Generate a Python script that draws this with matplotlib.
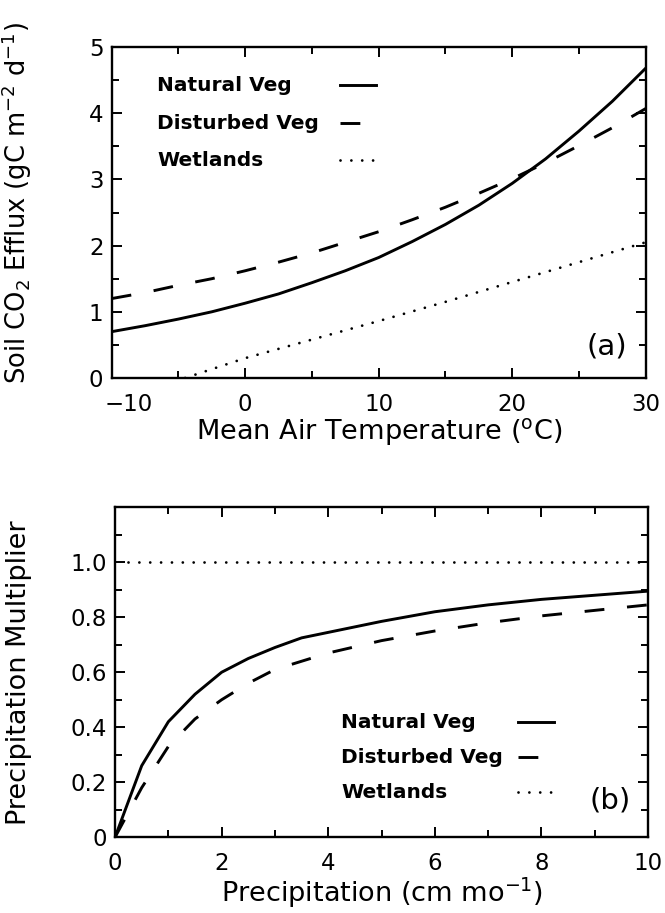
import numpy as np
import matplotlib
matplotlib.use("Agg")
import matplotlib.pyplot as plt
from matplotlib.ticker import MultipleLocator, FixedLocator, FuncFormatter

# panel (a): soil CO2 efflux vs mean air temperature
temp = [-10, -7.5, -5, -2.5, 0, 2.5, 5, 7.5, 10, 12.5, 15, 17.5, 20, 22.5, 25, 27.5, 30]
natural_a = [0.70, 0.79, 0.89, 1.00, 1.13, 1.27, 1.44, 1.62, 1.82, 2.06, 2.32,
             2.61, 2.94, 3.31, 3.73, 4.18, 4.68]
disturbed_a = [1.20, 1.29, 1.40, 1.50, 1.62, 1.75, 1.89, 2.05, 2.21, 2.39, 2.58,
               2.79, 3.01, 3.25, 3.51, 3.78, 4.07]
temp_wet = [-4.5, 0, 5, 10, 15, 20, 25, 30]
wetlands_a = [0.0, 0.30, 0.58, 0.86, 1.15, 1.45, 1.75, 2.05]

# panel (b): precipitation multiplier
precip_nat = [0, 0.5, 1, 1.5, 2, 2.5, 3, 3.5, 4, 5, 6, 7, 8, 9, 10]
natural_b = [0, 0.26, 0.42, 0.52, 0.60, 0.65, 0.69, 0.725, 0.745, 0.785, 0.82,
             0.845, 0.865, 0.88, 0.895]
precip_dist = [0, 0.5, 1, 1.5, 2, 2.5, 3, 4, 5, 6, 7, 8, 9, 10]
disturbed_b = [0, 0.18, 0.33, 0.43, 0.50, 0.56, 0.61, 0.67, 0.715, 0.75, 0.78,
               0.805, 0.825, 0.845]
precip_wet = [0.25, 10]
wetlands_b = [1.0, 1.0]

labels = ["Natural Veg", "Disturbed Veg", "Wetlands"]

styles = [dict(ls="-", lw=2.1),
          dict(ls=(0, (6.8, 7.8)), lw=2.1),
          dict(ls=(0, (0.01, 3.9)), lw=2.0, dash_capstyle="round")]

plt.rcParams["font.family"] = "DejaVu Sans"
TICK_FS = 16.5
XPAD = 11


def style_axes(ax):
    for s in ax.spines.values():
        s.set_linewidth(1.7)
    ax.tick_params(which="both", direction="in", top=True, right=True,
                   labelsize=TICK_FS, width=1.4, pad=6)
    ax.tick_params(axis="x", which="both", pad=XPAD)
    ax.tick_params(which="major", length=7)
    ax.tick_params(which="minor", length=5)


def draw_legend(ax, x_text, x0, x1, ys):
    for lab, st, y in zip(labels, styles, ys):
        ax.text(x_text, y, lab, fontsize=14.5, fontweight="bold", va="center")
        ax.plot([x0, x1], [y, y], color="black", **st)


def temp_fmt(v, p):
    # the first label is drawn separately, shifted clear of the y-axis "0"
    if v == temp[0]:
        return ""
    return f"{v:.0f}".replace("-", "\u2212")


def mult_fmt(v, p):
    return "0" if v == 0 else f"{v:.1f}"


fig = plt.figure(figsize=(6.65, 9.13), dpi=100)

ax1 = fig.add_axes([0.168, 0.586, 0.803, 0.3625])
ax1.plot(temp, natural_a, color="black", **styles[0])
ax1.plot(temp, disturbed_a, color="black", **styles[1])
ax1.plot(temp_wet, wetlands_a, color="black", **styles[2])
ax1.set_xlim(-10, 30)
ax1.set_ylim(0, 5)
ax1.xaxis.set_major_locator(MultipleLocator(10))
ax1.xaxis.set_minor_locator(MultipleLocator(5))
ax1.yaxis.set_major_locator(MultipleLocator(1))
ax1.yaxis.set_minor_locator(MultipleLocator(0.5))
ax1.xaxis.set_major_formatter(FuncFormatter(temp_fmt))
style_axes(ax1)
ax1.annotate(f"{temp[0]:.0f}".replace("-", "\u2212"), xy=(temp[0], 0),
             xycoords=("data", "axes fraction"), xytext=(-5, -XPAD),
             textcoords="offset points", ha="left", va="top", fontsize=TICK_FS)
ax1.set_xlabel("Mean Air Temperature ($^{\\rm o}$C)", fontsize=19.5, labelpad=0)
ax1.set_ylabel("Soil CO$_2$ Efflux (gC m$^{-2}$ d$^{-1}$)", fontsize=18.5)
ax1.yaxis.set_label_coords(-0.145, 0.53)
draw_legend(ax1, -6.6, 7.1, 9.8, [4.42, 3.85, 3.29])
ax1.text(27.1, 0.48, "(a)", fontsize=21, ha="center", va="center")

ax2 = fig.add_axes([0.173, 0.083, 0.8015, 0.3614])
ax2.plot(precip_nat, natural_b, color="black", **styles[0])
ax2.plot(precip_dist, disturbed_b, color="black", **styles[1])
ax2.plot(precip_wet, wetlands_b, color="black", **styles[2])
ax2.set_xlim(0, 10)
ax2.set_ylim(0, 1.2)
ax2.xaxis.set_major_locator(MultipleLocator(2))
ax2.xaxis.set_minor_locator(MultipleLocator(1))
ax2.yaxis.set_major_locator(FixedLocator([0, 0.2, 0.4, 0.6, 0.8, 1.0]))
ax2.yaxis.set_minor_locator(FixedLocator(np.arange(0.1, 1.25, 0.1)))
ax2.yaxis.set_major_formatter(FuncFormatter(mult_fmt))
style_axes(ax2)
ax2.set_xlabel("Precipitation (cm mo$^{-1}$)", fontsize=19.5, labelpad=0)
ax2.set_ylabel("Precipitation Multiplier", fontsize=19.5)
ax2.yaxis.set_label_coords(-0.155, 0.5)
draw_legend(ax2, 4.24, 7.56, 8.24, [0.418, 0.291, 0.164])
ax2.text(9.28, 0.133, "(b)", fontsize=21, ha="center", va="center")

fig.savefig("out.png", dpi=100)
